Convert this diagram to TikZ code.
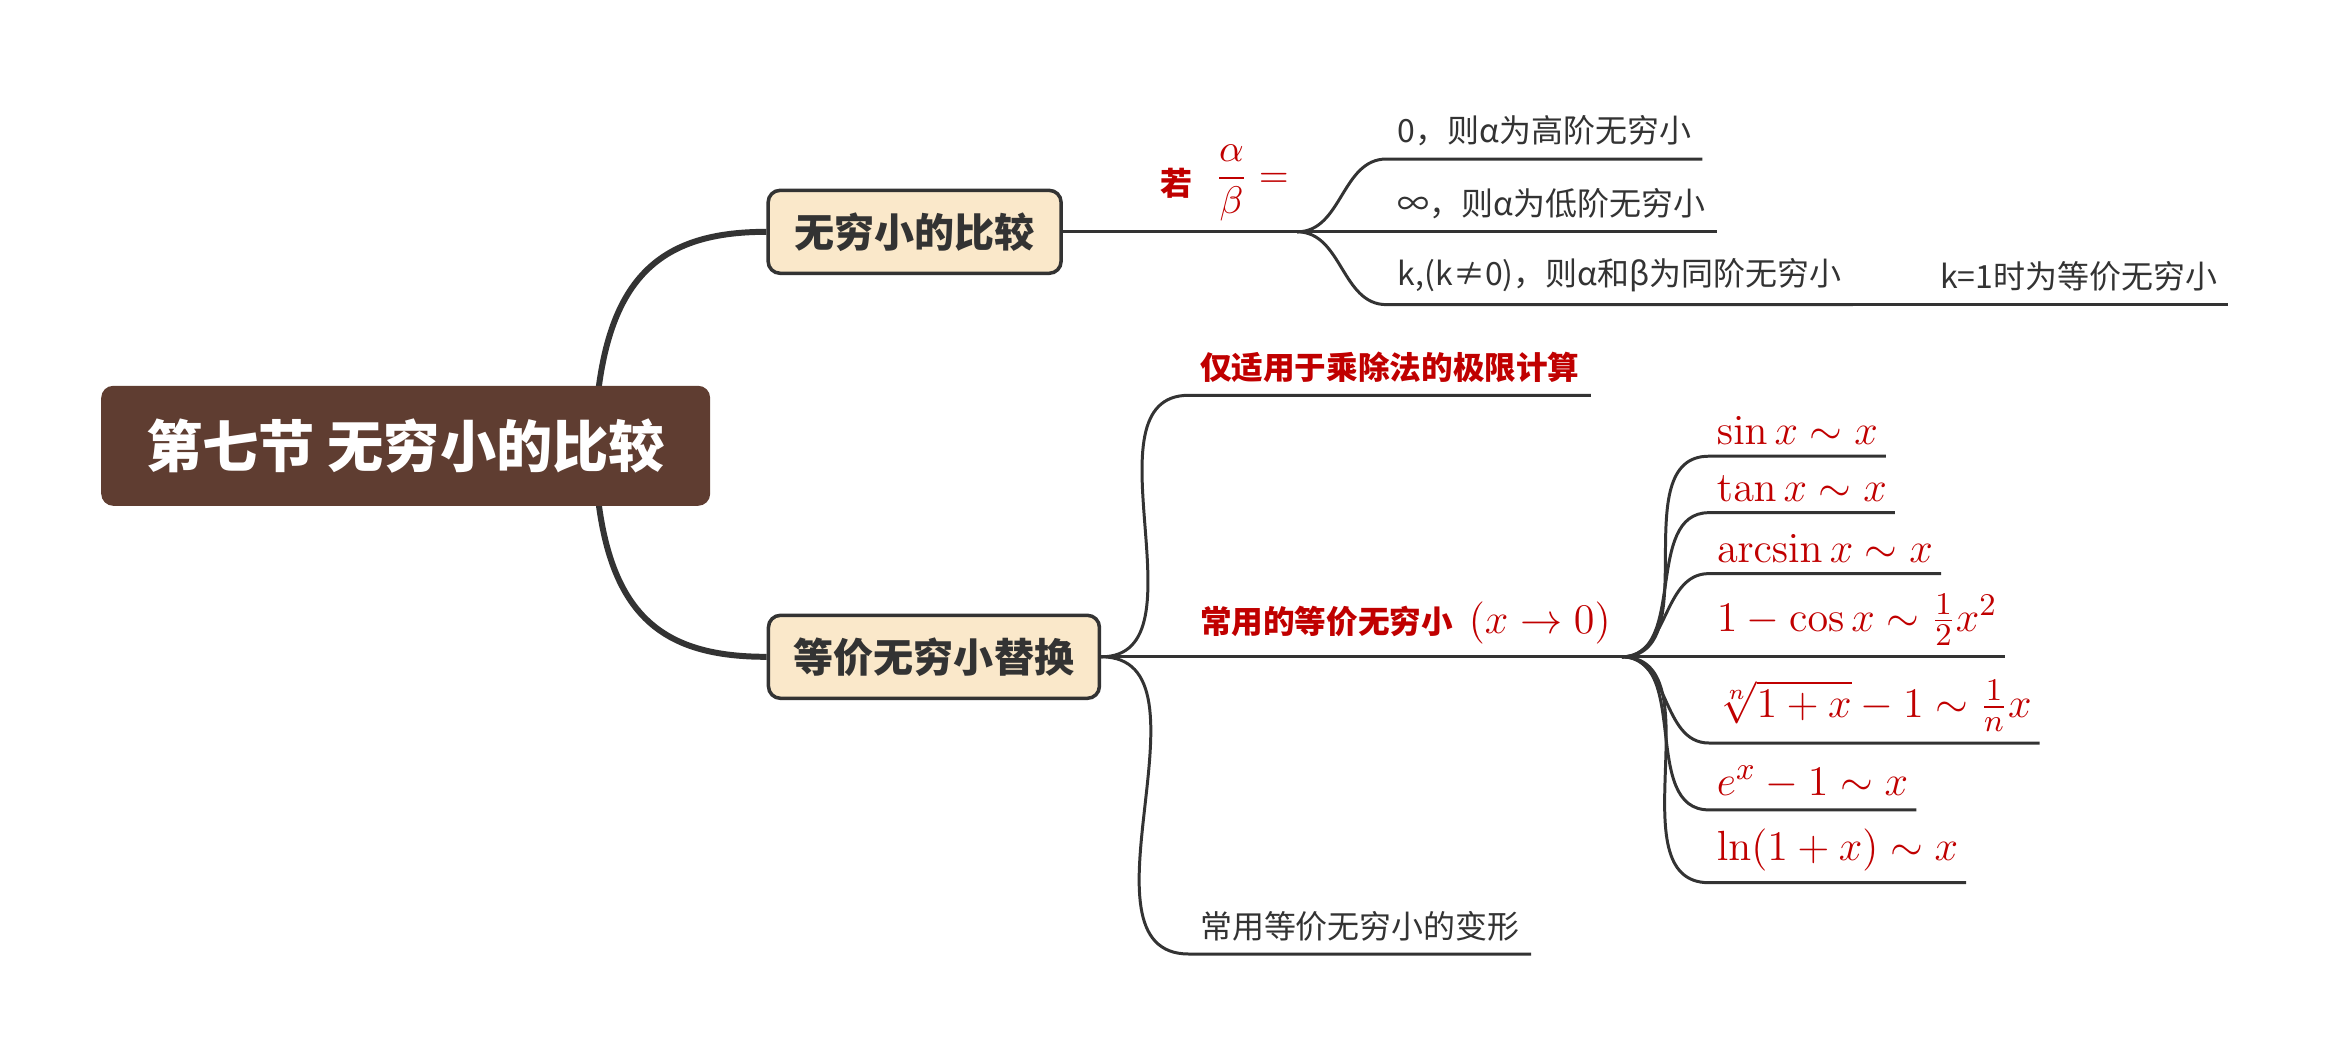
\documentclass[tikz,border=0pt]{standalone}
\usepackage[no-math]{fontspec}
\setmainfont{Noto Sans CJK SC}
\usepackage{amsmath}
\usetikzlibrary{positioning}
\definecolor{rootbrown}{RGB}{95,61,49}
\definecolor{topicbeige}{RGB}{250,232,202}
\definecolor{linegrey}{RGB}{51,51,51}
\definecolor{mathred}{RGB}{192,0,0}
\tikzset{
  base/.style={inner sep=0pt, text=linegrey},
  root/.style={base, rectangle, rounded corners=0.12cm, fill=rootbrown, text=white, font=\fontsize{16}{18}\selectfont\bfseries, minimum width=6.09cm, minimum height=1.2cm},
  topic/.style={base, rectangle, rounded corners=0.12cm, draw=linegrey, line width=1pt, fill=topicbeige, font=\fontsize{11.4}{13}\selectfont\bfseries, minimum height=0.83cm},
  leaf/.style={base, anchor=south west, inner xsep=3pt, inner ysep=3.5pt, font=\fontsize{9.1}{11}\selectfont},
  redleaf/.style={leaf, text=mathred, font=\fontsize{9}{11}\selectfont\bfseries},
  mathleaf/.style={leaf, text=mathred, inner xsep=2.1pt, inner ysep=3pt, font=\fontsize{12.5}{14}\selectfont},
  link/.style={draw=linegrey, line width=0.85pt},
  trunk/.style={draw=linegrey, line width=1.7pt},
  brc/.style={out=0, in=180},
}
\begin{document}
\begin{tikzpicture}[x=0.01486cm, y=-0.01486cm]
  \useasboundingbox (0,0) rectangle (1568,713);
  % main topics, trunk lines hidden behind the central box
  \coordinate (hub) at (400,300);
  \node[topic, minimum width=2.93cm] (cmp) at (615.5,156) {无穷小的比较};
  \node[topic, minimum width=3.31cm] (eqv) at (628.5,442) {等价无穷小替换};
  \draw[trunk] (hub) .. controls (403,190) and (440,156) .. (cmp.west);
  \draw[trunk] (hub) .. controls (403,410) and (440,442) .. (eqv.west);
  \node[root] (main) at (273,300) {第七节 无穷小的比较};
  % comparison
  \node[leaf, inner xsep=2.2pt, inner ysep=2.8pt] (ratio) at (775,156)
    {\raisebox{-2.4pt}{\color{mathred}\bfseries 若}\hspace{6.5pt}\textcolor{mathred}{\fontsize{10.5}{12}\selectfont$\displaystyle\frac{\alpha}{\beta}=$}};
  \node[leaf] (zero) at (933,107) {0，则α为高阶无穷小};
  \node[leaf] (infty) at (933,156) {∞，则α为低阶无穷小};
  \node[leaf] (same) at (933,205) {k,(k≠0)，则α和β为同阶无穷小};
  \node[leaf] (equal) at (1298,205) {k=1时为等价无穷小};
  \draw[link] (cmp.east) -- (ratio.south west) -- (ratio.south east);
  \foreach \n in {zero,infty,same}{
    \draw[link] (ratio.south east) to[brc] (\n.south west) -- (\n.south east);
  }
  \draw[link] (same.south east) -- (equal.south west) -- (equal.south east);
  % replacement
  \node[redleaf] (scope) at (800,266) {仅适用于乘除法的极限计算};
  \node[redleaf] (common) at (800,442)
    {常用的等价无穷小\hspace{0.5em}\textcolor{mathred}{\fontsize{12}{14}\selectfont$(x\to0)$}};
  \node[leaf] (variant) at (800,642) {常用等价无穷小的变形};
  \foreach \n in {scope,common,variant}{
    \draw[link] (eqv.east) to[brc] (\n.south west) -- (\n.south east);
  }
  \foreach \n/\y/\f in {sin/307/{\sin x\sim x}, tan/345/{\tan x\sim x},
                        asin/386/{\arcsin x\sim x}, cos/442/{1-\cos x\sim\frac{1}{2}x^2},
                        nrt/500/{\sqrt[n]{1+x}-1\sim\frac{1}{n}x}, exp/545/{e^x-1\sim x},
                        log/594/{\ln(1+x)\sim x}}{
    \node[mathleaf] (f\n) at (1150,\y) {$\f$};
    \draw[link] (common.south east) to[brc] (f\n.south west) -- (f\n.south east);
  }
\end{tikzpicture}
\end{document}
